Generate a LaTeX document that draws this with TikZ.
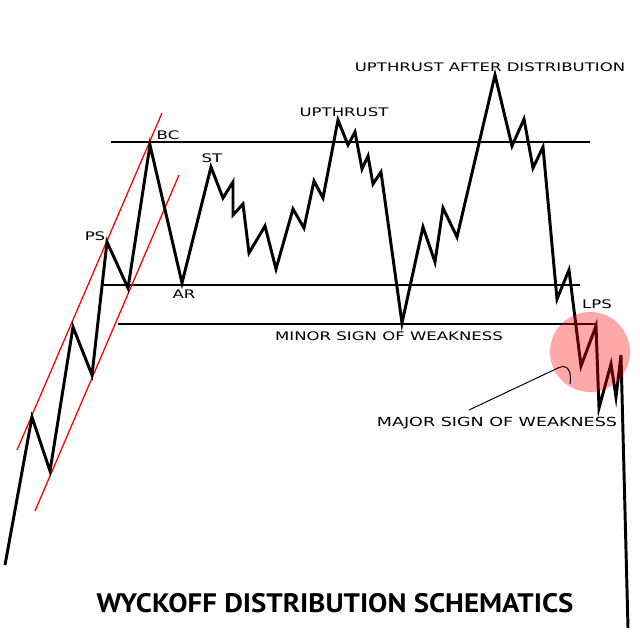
\documentclass[tikz,border=0pt]{standalone}
\usepackage{fontspec}
\setmainfont{DejaVu Sans}
\newfontfamily\lblfont[FakeStretch=1.4]{DejaVu Sans}
\newfontfamily\ttlfont[FakeStretch=1.08]{PT Sans}
\usetikzlibrary{positioning}
\definecolor{Zone}{HTML}{FF0000}

\begin{document}
\begin{tikzpicture}[x=0.025cm,y=-0.025cm,
    lbl/.style={font=\lblfont\fontsize{8.4}{9}\selectfont,inner sep=0pt},
    level/.style={draw=black,line width=1.4pt},
    chan/.style={draw=red,line width=0.9pt},
    price/.style={draw=black,line width=2.1pt}]
  \useasboundingbox[fill=white] (0,0) rectangle (640,640);
  % range levels
  \draw[level] (111,142) -- (590,142);
  \draw[level] (102,285) -- (580,285);
  \draw[level] (118,324) -- (597,324);
  % channel
  \draw[chan] (17,450) -- (162,113);
  \draw[chan] (35,511) -- (179,175);
  % price action
  \draw[price] (5,565) -- (32,417) -- (50,471) -- (73,327) -- (92,375) -- (107,242)
    -- (128,288) -- (150,145) -- (182,283) -- (211,167) -- (223,198) -- (233,182)
    -- (233,215) -- (243,204) -- (249,253) -- (265,226) -- (276,269) -- (293,209)
    -- (304,228) -- (314,181) -- (323,198) -- (338,120) -- (348,145) -- (355,132)
    -- (362,169) -- (368,156) -- (373,184) -- (381,172) -- (402,323) -- (423,227)
    -- (435,262) -- (443,208) -- (457,237) -- (495,75) -- (512,146) -- (524,119)
    -- (533,168) -- (543,147) -- (557,299) -- (569,270) -- (581,366) -- (596,326)
    -- (599,408) -- (611,364) -- (616,397) -- (621,355) -- (628,628);
  \fill[Zone,opacity=0.34] (590,352) circle[radius=40];
  % labels
  \node[lbl] (ps) at (95,236) {PS};
  \node[lbl] (bc) at (168,135) {BC};
  \node[lbl] (st) at (212,158) {ST};
  \node[lbl] (ar) at (184,294) {AR};
  \node[lbl] (ut) at (344,112) {UPTHRUST};
  \node[lbl] (utad) at (490,67) {UPTHRUST AFTER DISTRIBUTION};
  \node[lbl] (minor) at (389,336) {MINOR SIGN OF WEAKNESS};
  \node[lbl] (lps) at (597,304) {LPS};
  \node[lbl,font=\lblfont\fontsize{8.9}{10}\selectfont] (major) at (497,423) {MAJOR SIGN OF WEAKNESS};
  \coordinate (tail) at (469,410);
  \coordinate (sowtip) at (570,384);
  \draw[line width=0.7pt] (tail) -- (558,368) .. controls (568,363) and (572,372) .. (sowtip);
  \node[font=\ttlfont\bfseries\fontsize{19}{22}\selectfont,inner sep=0pt] (title) at (335,603)
    {WYCKOFF DISTRIBUTION SCHEMATICS};
\end{tikzpicture}
\end{document}
